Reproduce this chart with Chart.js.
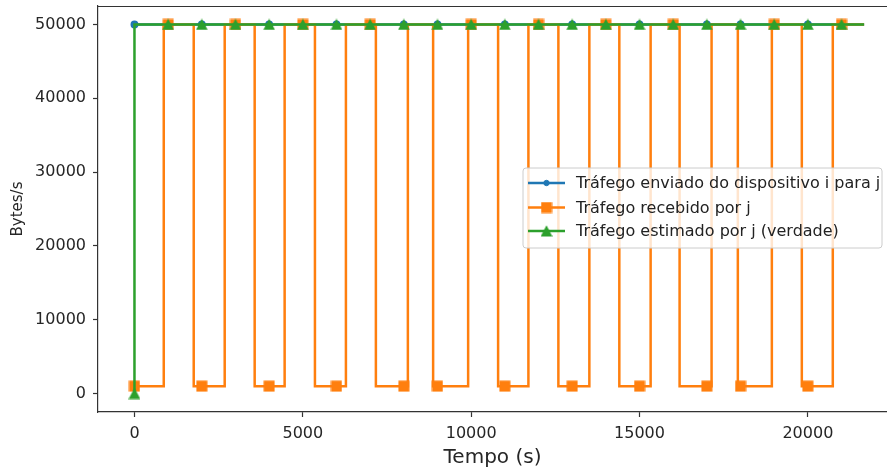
<!DOCTYPE html>
<html>
<head>
<meta charset="utf-8">
<script src="https://cdn.jsdelivr.net/npm/chart.js@4"></script>
<style>
  html, body { margin: 0; padding: 0; background: #fff; }
</style>
</head>
<body>
<canvas id="grafico-trafego" width="887" height="470"></canvas>
<script>
// instantes (s) em que se colocam os marcadores
const marcasTempo = [0, 1000, 2000, 3000, 4000, 5000, 6000, 7000, 8000, 9000, 10000,
  11000, 12000, 13000, 14000, 15000, 16000, 17000, 18000, 19000, 20000, 21000];
// instantes (s) em que o trafego recebido alterna entre baixo e alto
const trocasRecebido = [870, 1760, 2680, 3570, 4460, 5360, 6280, 7170, 8120, 8870,
  9910, 10800, 11700, 12590, 13510, 14400, 15330, 16190, 17140, 17920, 18930, 19820, 20740];
const tempoFinal = 21670;
const enviadoBytes = 50000;
const recebidoBaixo = 1000;
const recebidoAlto = 50000;
const estimadoInicio = 0;
const estimadoBytes = 50000;
const ticksTempo = [0, 5000, 10000, 15000, 20000];
const ticksBytes = [0, 10000, 20000, 30000, 40000, 50000];

const azul = "#1f77b4", laranja = "#ff7f0e", verde = "#2ca02c";

// serie enviada: constante
const serieEnviado = marcasTempo.map(t => ({x: t, y: enviadoBytes, marca: true}));
serieEnviado.push({x: tempoFinal, y: enviadoBytes});

// serie recebida: onda quadrada montada a partir das trocas
const serieRecebido = [];
(function () {
  const eventos = marcasTempo.map(t => ({t, tipo: "marca"}))
    .concat(trocasRecebido.map(t => ({t, tipo: "troca"})))
    .sort((a, b) => a.t - b.t);
  let nivel = recebidoBaixo;
  eventos.forEach(ev => {
    if (ev.tipo === "troca") {
      serieRecebido.push({x: ev.t, y: nivel});
      nivel = nivel === recebidoBaixo ? recebidoAlto : recebidoBaixo;
      serieRecebido.push({x: ev.t, y: nivel});
    } else {
      serieRecebido.push({x: ev.t, y: nivel, marca: true});
    }
  });
  serieRecebido.push({x: tempoFinal, y: nivel});
})();

// serie estimada: sobe de 0 no instante inicial e fica constante
const serieEstimado = [{x: 0, y: estimadoInicio, marca: true}, {x: 0, y: estimadoBytes}]
  .concat(marcasTempo.slice(1).map(t => ({x: t, y: estimadoBytes, marca: true})));
serieEstimado.push({x: tempoFinal, y: estimadoBytes});

const raio = r => ctx => (ctx.raw && ctx.raw.marca ? r : 0);

// marcadores centrados como no matplotlib ('s' e '^')
function marcador(cor, forma) {
  const c = document.createElement("canvas");
  c.width = 12; c.height = 12;
  const g = c.getContext("2d");
  g.fillStyle = cor;
  g.beginPath();
  if (forma === "quadrado") {
    g.rect(0.5, 0.5, 11, 11);
  } else {
    g.moveTo(6, 0.3);
    g.lineTo(11.9, 11.4);
    g.lineTo(0.1, 11.4);
    g.closePath();
  }
  g.fill();
  return c;
}
const quadrado = marcador(laranja, "quadrado");
const triangulo = marcador(verde, "triangulo");

Chart.defaults.font.family = "'DejaVu Sans', sans-serif";

// legenda desenhada no estilo do matplotlib (linha + marcador)
const legendaPlugin = {
  id: "legendaLinhas",
  afterDraw(chart) {
    const ctx = chart.ctx;
    const x0 = 523, y0 = 168, w = 359, h = 80;
    ctx.save();
    ctx.beginPath();
    ctx.roundRect(x0, y0, w, h, 3);
    ctx.fillStyle = "rgba(255,255,255,0.8)";
    ctx.fill();
    ctx.strokeStyle = "#cccccc";
    ctx.lineWidth = 1;
    ctx.stroke();
    const linhas = [183, 207.5, 231];
    chart.data.datasets.forEach((ds, i) => {
      const y = linhas[i];
      ctx.beginPath();
      ctx.moveTo(528, y);
      ctx.lineTo(565, y);
      ctx.strokeStyle = ds.borderColor;
      ctx.lineWidth = ds.borderWidth;
      ctx.stroke();
      ctx.fillStyle = ds.backgroundColor;
      ctx.strokeStyle = ds.borderColor;
      ctx.lineWidth = 1;
      Chart.helpers.drawPoint(ctx, {
        pointStyle: ds.pointStyle, radius: ds.legendRadius, borderWidth: 1
      }, 546.5, y);
      ctx.fillStyle = "#222";
      ctx.font = "16px 'DejaVu Sans'";
      ctx.textBaseline = "middle";
      ctx.fillText(ds.label, 576, y + 1);
    });
    ctx.restore();
  }
};

// borda superior do eixo
const bordaTopo = {
  id: "bordaTopo",
  afterDraw(chart) {
    const {ctx, chartArea} = chart;
    ctx.save();
    ctx.beginPath();
    ctx.moveTo(chartArea.left, chartArea.top + 0.5);
    ctx.lineTo(chartArea.right, chartArea.top + 0.5);
    ctx.strokeStyle = "#333";
    ctx.lineWidth = 1.2;
    ctx.stroke();
    ctx.restore();
  }
};

const semMargem = s => {
  s.paddingTop = 0; s.paddingBottom = 0; s.paddingLeft = 0; s.paddingRight = 0;
};

const grafico = new Chart(document.querySelector("#grafico-trafego").getContext("2d"), {
  type: "line",
  data: {
    datasets: [
      {
        label: "Tráfego enviado do dispositivo i para j",
        data: serieEnviado,
        borderColor: azul, backgroundColor: azul,
        borderWidth: 2.5, pointStyle: "circle",
        pointRadius: raio(2.7), legendRadius: 2.7,
        order: 3
      },
      {
        label: "Tráfego recebido por j",
        data: serieRecebido,
        borderColor: laranja, backgroundColor: laranja,
        borderWidth: 2.5, pointStyle: quadrado,
        pointRadius: raio(6), legendRadius: 6,
        order: 2
      },
      {
        label: "Tráfego estimado por j (verdade)",
        data: serieEstimado,
        borderColor: verde, backgroundColor: verde,
        borderWidth: 2.5, pointStyle: triangulo,
        pointRadius: raio(6), legendRadius: 6,
        order: 1
      }
    ]
  },
  options: {
    responsive: false,
    animation: false,
    layout: {autoPadding: false, padding: {top: 6, right: 0, left: 0, bottom: 0}},
    elements: {
      line: {tension: 0},
      point: {borderWidth: 1, hitRadius: 0, hoverRadius: 0}
    },
    plugins: {legend: {display: false}, tooltip: {enabled: false}},
    scales: {
      x: {
        type: "linear",
        min: -1083,
        max: 22350,
        afterBuildTicks: s => { s.ticks = ticksTempo.map(v => ({value: v})); },
        afterFit: s => { s.height = 58; semMargem(s); },
        grid: {drawOnChartArea: false, color: "#333", tickLength: 5, tickWidth: 1.2},
        border: {color: "#333", width: 1.2},
        ticks: {
          color: "#262626", padding: 7, maxRotation: 0,
          font: {size: 16},
          callback: v => String(v)
        },
        title: {
          display: true, text: "Tempo (s)", color: "#262626",
          font: {size: 20}, padding: {top: 0, bottom: 0}
        }
      },
      y: {
        min: -2500,
        max: 52500,
        afterBuildTicks: s => { s.ticks = ticksBytes.map(v => ({value: v})); },
        afterFit: s => { s.width = 98; semMargem(s); },
        grid: {drawOnChartArea: false, color: "#333", tickLength: 5, tickWidth: 1.2},
        border: {color: "#333", width: 1.2},
        ticks: {
          color: "#262626", padding: 7,
          font: {size: 16},
          callback: v => String(v)
        },
        title: {
          display: true, text: "Bytes/s", color: "#262626",
          font: {size: 15}, padding: {top: 9, bottom: 0}
        }
      }
    }
  },
  plugins: [bordaTopo, legendaPlugin]
});
</script>
</body>
</html>
